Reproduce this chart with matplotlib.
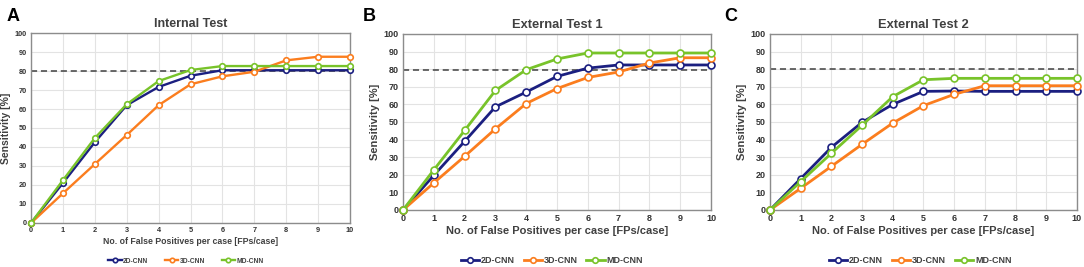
import matplotlib.pyplot as plt
import numpy as np

plt.rcParams['font.family'] = ['Liberation Sans', 'DejaVu Sans']
plt.rcParams['font.weight'] = 'bold'

# x values: number of false positives per case
fps = np.arange(0, 11)

# sensitivity [%]
int_2d = [0, 21, 42.5, 62, 71.6, 77.5, 80.4, 80.4, 80.4, 80.4, 80.4]
int_3d = [0, 15.6, 31, 46.3, 62, 73, 77.2, 79.6, 85.6, 87.5, 87.5]
int_md = [0, 22.5, 44.7, 62.5, 74.7, 80.5, 82.6, 82.6, 82.6, 82.6, 82.6]

ext1_2d = [0, 19.7, 39, 58.6, 67, 75.9, 80.6, 82.4, 82.4, 82.4, 82.4]
ext1_3d = [0, 15.4, 30.5, 46.1, 60.5, 69, 75.3, 78.4, 83.5, 86.5, 86.5]
ext1_md = [0, 22.8, 45.2, 67.9, 79.7, 85.8, 89.2, 89.2, 89.2, 89.2, 89.2]

ext2_2d = [0, 17.8, 35.6, 49.8, 60, 67.4, 67.6, 67.4, 67.4, 67.4, 67.4]
ext2_3d = [0, 12.3, 24.8, 37.3, 49.4, 59.3, 65.7, 70.6, 70.6, 70.6, 70.6]
ext2_md = [0, 16.1, 32.2, 48.1, 64.4, 74, 74.8, 74.8, 74.8, 74.8, 74.8]

ref_lines = [80, 79.3, 80]
titles = ['Internal Test', 'External Test 1', 'External Test 2']
letters = ['A', 'B', 'C']
labels = ['2D-CNN', '3D-CNN', 'MD-CNN']
colors = ['#1b1f80', '#fb7d1e', '#78c32a']

panels = [(int_2d, int_3d, int_md), (ext1_2d, ext1_3d, ext1_md), (ext2_2d, ext2_3d, ext2_md)]

fig = plt.figure(figsize=(10.84, 2.67), dpi=100)

# axes rectangles (fig fraction) and font sizes per panel
rects = [[0.0286, 0.1648, 0.2943, 0.7116],
         [0.3718, 0.2135, 0.2841, 0.6592],
         [0.7103, 0.2135, 0.2832, 0.6592]]
tick_fs = [5.3, 6.5, 6.5]
xlab_fs = [6.3, 8, 8]
ylab_fs = [7.5, 8, 8]
title_fs = [9, 9.3, 9.3]
lw = [1.7, 2, 2]
ms = [4, 5, 5]
leg_fs = [4.8, 6.5, 6.5]
leg_xy = [(0.1716, 0.022), (0.509, 0.024), (0.849, 0.024)]
letter_x = [0.006, 0.335, 0.668]

for i, (rect, series) in enumerate(zip(rects, panels)):
    ax = fig.add_axes(rect)
    for vals, lab, col in zip(series, labels, colors):
        ax.plot(fps, vals, color=col, lw=lw[i], marker='o', ms=ms[i],
                mfc='white', mec=col, mew=1.2, label=lab, clip_on=False, zorder=3)
    ax.axhline(ref_lines[i], color='#404040', ls=(0, (4, 2.5)), lw=1.1, zorder=2)
    ax.set_xlim(0, 10)
    ax.set_ylim(0, 100)
    ax.set_xticks(range(0, 11))
    ax.set_yticks(range(0, 101, 10))
    ax.grid(True, color='#e3e3e3', lw=0.8)
    ax.set_axisbelow(True)
    for s in ax.spines.values():
        s.set_color('#8c8c8c')
        s.set_linewidth(1)
    ax.tick_params(length=0, labelsize=tick_fs[i], pad=3, colors='#333333')
    for t in ax.get_xticklabels() + ax.get_yticklabels():
        t.set_fontweight('bold')
    ax.set_xlabel('No. of False Positives per case [FPs/case]', fontsize=xlab_fs[i],
                  fontweight='bold', color='#404040', labelpad=2)
    ax.set_ylabel('Sensitivity [%]', fontsize=ylab_fs[i], fontweight='bold',
                  color='#404040', labelpad=3)
    ax.set_title(titles[i], fontsize=title_fs[i], fontweight='bold', color='#404040', pad=4)
    leg = fig.legend(*ax.get_legend_handles_labels(), loc='center',
                     bbox_to_anchor=leg_xy[i], ncol=3, frameon=False,
                     fontsize=leg_fs[i], handlelength=2, handletextpad=0.2,
                     columnspacing=1.0 if i else 2.5, borderpad=0, markerscale=0.8)
    for t in leg.get_texts():
        t.set_color('#404040')
    fig.text(letter_x[i], 0.97, letters[i], fontsize=13, fontweight='bold',
             va='top', ha='left', color='black')

fig.savefig('out.png', dpi=100)
